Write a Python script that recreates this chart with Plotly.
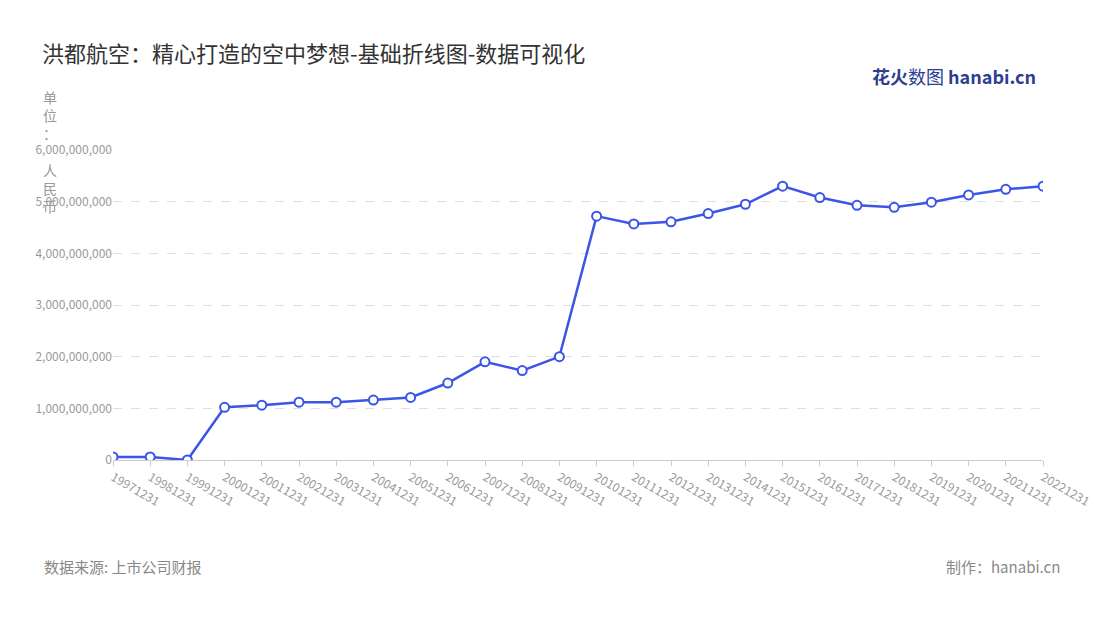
import plotly.graph_objects as go

years = ["19971231","19981231","19991231","20001231","20011231","20021231","20031231","20041231",
         "20051231","20061231","20071231","20081231","20091231","20101231","20111231","20121231",
         "20131231","20141231","20151231","20161231","20171231","20181231","20191231","20201231",
         "20211231","20221231"]
values_bn = [0.06,0.06,0.0,1.02,1.06,1.12,1.12,1.16,1.21,1.49,1.90,1.73,2.0,4.72,4.57,4.61,
             4.77,4.95,5.30,5.08,4.93,4.89,4.99,5.13,5.24,5.30]
values = [v*1e9 for v in values_bn]
yticks = [0,1e9,2e9,3e9,4e9,5e9,6e9]

fig = go.Figure(go.Scatter(
    x=years, y=values, mode="lines+markers",
    line=dict(color="#3B55E6", width=2.5),
    marker=dict(size=9, color="white", line=dict(color="#3B55E6", width=2)),
))
font = "Noto Sans CJK SC"
fig.update_layout(
    width=1100, height=620, paper_bgcolor="white", plot_bgcolor="white",
    margin=dict(l=105, r=65, t=142, b=168),
    font=dict(family=font, color="#999999", size=12),
    showlegend=False,
    title=dict(text="洪都航空：精心打造的空中梦想-基础折线图-数据可视化", x=0.031, xanchor="left",
               y=0.925, yanchor="middle", font=dict(size=22, color="#333333", family=font)),
    xaxis=dict(type="category", tickangle=30, showgrid=False, showline=True, linecolor="#cccccc",
               ticks="outside", tickcolor="#cccccc", ticklen=5, range=[0, 25], automargin=False,
               tickfont=dict(size=12, color="#999999")),
    yaxis=dict(range=[0, 6e9], tickvals=yticks, tickformat=",.0f", showgrid=True,
               gridcolor="#e0e0e0", griddash="dash", zeroline=False, automargin=False,
               tickfont=dict(size=12, color="#999999")),
    annotations=[
        dict(text="单<br>位<br>：<br><br>人<br>民<br>币", xref="paper", yref="paper", x=-0.068, y=1.21,
             xanchor="center", yanchor="top", showarrow=False, font=dict(size=14, color="#999999")),
        dict(text="数据来源: 上市公司财报", xref="paper", yref="paper", x=-0.076, y=-0.345,
             xanchor="left", yanchor="middle", showarrow=False, font=dict(size=15, color="#888888")),
        dict(text="制作：hanabi.cn", xref="paper", yref="paper", x=1.02, y=-0.345,
             xanchor="right", yanchor="middle", showarrow=False, font=dict(size=15, color="#888888")),
        dict(text="<b>花火</b>数图 <b>hanabi.cn</b>", xref="paper", yref="paper", x=0.995, y=1.24,
             xanchor="right", yanchor="middle", showarrow=False, font=dict(size=18, color="#2d3e8f")),
    ],
)
fig.write_html("out.html")
